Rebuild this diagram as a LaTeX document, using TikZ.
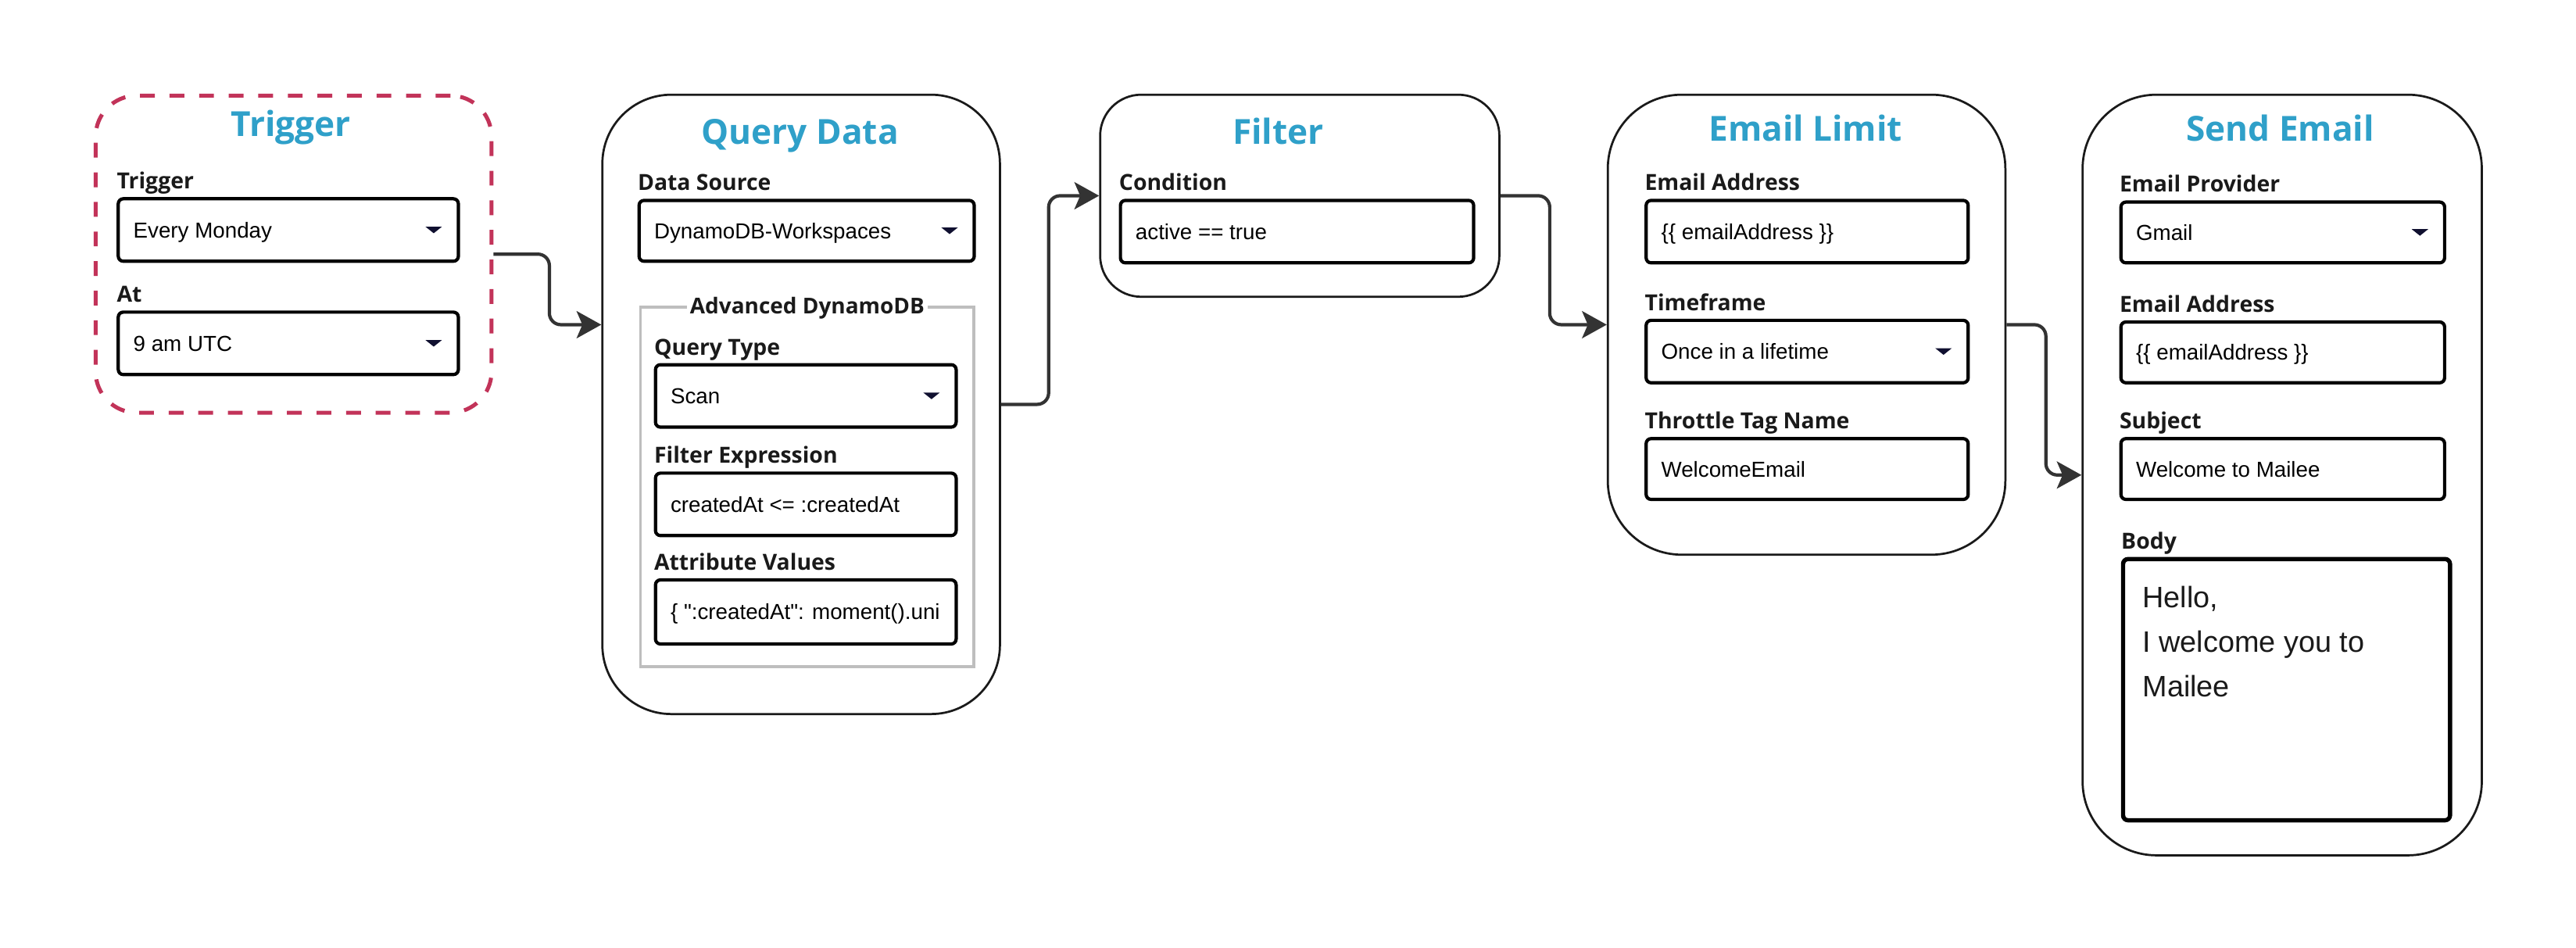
\documentclass[tikz,border=0pt]{standalone}
\usepackage{fontspec}
\setmainfont{Open Sans}
\newfontfamily\inpfont{Liberation Sans}
\usetikzlibrary{arrows.meta}
\definecolor{titleblue}{RGB}{47,160,201}
\definecolor{dashred}{RGB}{194,51,89}
\definecolor{arrowgray}{RGB}{51,51,51}
\definecolor{ddblue}{RGB}{16,16,48}
\definecolor{groupgray}{RGB}{190,190,190}
\definecolor{labelblack}{RGB}{26,26,26}
\newcommand\fld[6]{%
  \node[inbox, minimum width=#4pt, minimum height=#5pt] (#1) at (#2,#3) {};
  \node[val] (#1-txt) at ([xshift=10pt,yshift=-4.7pt]#1.west) {#6};}
\newcommand\ddn[1]{%
  \fill[ddblue] ([xshift=-21pt,yshift=2pt]#1.east) -- ++(10,0) -- ++(-5,4) -- cycle;}
\newcommand\lab[2]{%
  \node[lbl] (#1-lab) at ([yshift=5pt]#1.north west) {#2};}
\begin{document}
\begin{tikzpicture}[x=1pt,y=-1pt,
  panel/.style={draw=labelblack, line width=1.3pt, fill=white, rectangle,
    rounded corners=#1, anchor=north west, inner sep=0pt},
  inbox/.style={draw=black, line width=2pt, rounded corners=3pt, fill=white,
    anchor=north west, inner sep=0pt},
  ttl/.style={font=\bfseries\fontsize{21}{25}\selectfont, text=titleblue,
    anchor=base, inner sep=0pt},
  lbl/.style={font=\bfseries\fontsize{13.5}{16}\selectfont, text=labelblack,
    anchor=base west, inner sep=0pt},
  val/.style={font=\inpfont\fontsize{13.2}{16}\selectfont, text=black,
    anchor=base west, inner sep=0pt},
  bodytxt/.style={font=\inpfont\fontsize{18}{22}\selectfont, text=labelblack,
    anchor=base west, inner sep=0pt},
  conn/.style={draw=arrowgray, line width=2pt, rounded corners=7pt,
    -{Stealth[length=15pt,width=16.5pt,inset=3.5pt]}}
]
\useasboundingbox (0,0) rectangle (1568,577);
\fill[white] (0,0) rectangle (1568,577);

% ---------- Trigger ----------
\node[panel=25pt, draw=dashred, line width=2.4pt, dash pattern=on 9pt off 9pt,
  minimum width=241pt, minimum height=193pt] (trig) at (57,57) {};
\node[ttl] (trig-t) at (177,83) {Trigger};
\fld{trigIn}{71}{120}{207}{38}{Every Monday}\ddn{trigIn}
\lab{trigIn}{Trigger}
\fld{atIn}{71}{189}{207}{38}{9 am UTC}\ddn{atIn}
\lab{atIn}{At}

% ---------- Query Data ----------
\node[panel=42pt, minimum width=242pt, minimum height=377pt] (qd) at (366,57) {};
\node[ttl] (qd-t) at (487,88) {Query Data};
\fld{dsIn}{388}{121}{204}{37}{DynamoDB-Workspaces}\ddn{dsIn}
\lab{dsIn}{Data Source}
\node[draw=groupgray, line width=1.8pt, anchor=north west, inner sep=0pt,
  minimum width=203pt, minimum height=219pt] (adv) at (389,186) {};
\node[font=\bfseries\fontsize{13.3}{16}\selectfont, text=labelblack, fill=white,
  inner xsep=2pt, inner ysep=1pt, anchor=base] (adv-t) at ([yshift=-5pt]adv.north) {Advanced DynamoDB};
\fld{qtIn}{398}{221}{183}{38}{Scan}\ddn{qtIn}
\lab{qtIn}{Query Type}
\fld{feIn}{398}{287}{183}{38}{createdAt <= :createdAt}
\lab{feIn}{Filter Expression}
\fld{avIn}{398}{352}{183}{39}{\{ ":createdAt": moment().uni}
\lab{avIn}{Attribute Values}

% ---------- Filter ----------
\node[panel=25pt, minimum width=243pt, minimum height=123pt] (flt) at (669,57) {};
\node[ttl] (flt-t) at (778,88) {Filter};
\fld{condIn}{681}{121}{215}{38}{active == true}
\lab{condIn}{Condition}

% ---------- Email Limit ----------
\node[panel=45pt, minimum width=242pt, minimum height=280pt] (el) at (978,57) {};
\node[ttl] (el-t) at (1099,86) {Email Limit};
\fld{eaIn}{1001}{121}{196}{38}{\{\{ emailAddress \}\}}
\lab{eaIn}{Email Address}
\fld{tfIn}{1001}{194}{196}{38}{Once in a lifetime}\ddn{tfIn}
\lab{tfIn}{Timeframe}
\fld{ttIn}{1001}{266}{196}{37}{WelcomeEmail}
\lab{ttIn}{Throttle Tag Name}

% ---------- Send Email ----------
\node[panel=45pt, minimum width=243pt, minimum height=463pt] (se) at (1267,57) {};
\node[ttl] (se-t) at (1388,86) {Send Email};
\fld{epIn}{1290}{122}{197}{37}{Gmail}\ddn{epIn}
\lab{epIn}{Email Provider}
\fld{seaIn}{1290}{195}{197}{37}{\{\{ emailAddress \}\}}
\lab{seaIn}{Email Address}
\fld{subIn}{1290}{266}{197}{37}{Welcome to Mailee}
\lab{subIn}{Subject}
\node[inbox, line width=2.6pt, minimum width=199pt, minimum height=159pt] (bodyIn) at (1291,339) {};
\lab{bodyIn}{Body}
\node[bodytxt] (b1) at (1304,370) {Hello,};
\node[bodytxt] (b2) at (1304,397) {I welcome you to};
\node[bodytxt] (b3) at (1304,424) {Mailee};

% ---------- Connectors ----------
\draw[conn] (trig.east) -- ++(34,0) |- ([yshift=48.5pt]qd.west);
\draw[conn] (qd.east) -- ++(29,0) |- (flt.west);
\draw[conn] (flt.east) -- ++(30,0) |- (el.west);
\draw[conn] (el.east) -- ++(24,0) |- (se.west);
\end{tikzpicture}
\end{document}
